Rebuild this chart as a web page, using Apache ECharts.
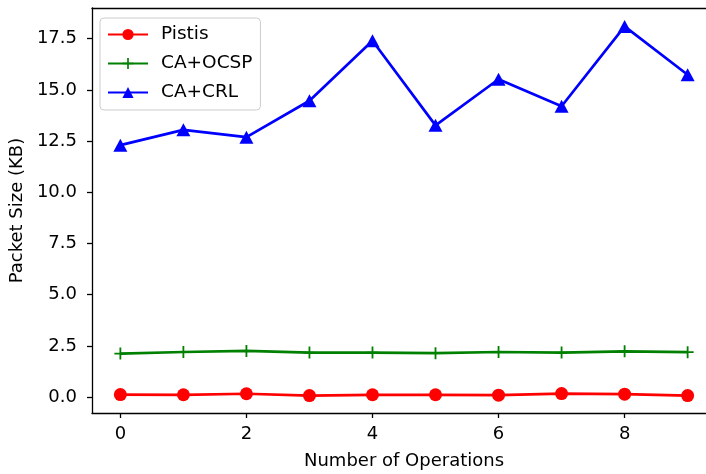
<!DOCTYPE html>
<html><head><meta charset="utf-8">
<script src="https://cdn.jsdelivr.net/npm/echarts@6/dist/echarts.min.js"></script>
<style>html,body{margin:0;padding:0;overflow:hidden;background:#fff;width:706px;height:474px}#c{width:730px;height:474px}</style>
</head><body><div id="c"></div>
<script>
const operations = [0,1,2,3,4,5,6,7,8,9];
const pistis = [0.12,0.11,0.16,0.07,0.11,0.11,0.09,0.17,0.14,0.07];
const caOcsp = [2.12,2.20,2.25,2.17,2.17,2.14,2.20,2.17,2.23,2.19];
const caCrl = [12.3,13.05,12.69,14.47,17.4,13.27,15.52,14.2,18.1,15.74];
const xTicks = [0,2,4,6,8];
const yTicks = [0,2.5,5,7.5,10,12.5,15,17.5];

const font = 'DejaVu Sans';
const plus = 'path://M0.425,0 H0.575 V0.425 H1 V0.575 H0.575 V1 H0.425 V0.575 H0 V0.425 H0.425 Z';
function pairs(v){return operations.map((x,i)=>[x,v[i]]);}
const axisColor = {color:'#000',width:1.3};
const chart = echarts.init(document.getElementById('c'));
chart.setOption({
  animation:false,
  textStyle:{fontFamily:font},
  grid:{left:92,top:8,width:624,bottom:61,containLabel:false,outerBoundsMode:'none'},
  legend:{
    left:100, top:18, orient:'vertical', itemWidth:40, itemHeight:14, itemGap:10,
    padding:[7,8,8,7], borderColor:'#cccccc', borderWidth:1, borderRadius:4,
    backgroundColor:'rgba(255,255,255,0.8)',
    textStyle:{fontFamily:font,fontSize:18.5,color:'#000',padding:[0,0,0,8]},
    data:['Pistis','CA+OCSP','CA+CRL']
  },
  xAxis:[{
    type:'value', min:-0.45, max:9.45,
    name:'Number of Operations', nameLocation:'middle', nameGap:39,
    nameTextStyle:{fontFamily:font,fontSize:18,color:'#000'},
    axisLine:{onZero:false,lineStyle:axisColor},
    axisTick:{show:true,length:5,customValues:xTicks,lineStyle:axisColor},
    axisLabel:{customValues:xTicks,fontFamily:font,fontSize:18,color:'#000',margin:12},
    splitLine:{show:false}
  },{
    type:'value', min:-0.45, max:9.45, position:'top',
    axisLine:{show:true,onZero:false,lineStyle:axisColor},
    axisTick:{show:false}, axisLabel:{show:false}, splitLine:{show:false}
  }],
  yAxis:{
    type:'value', min:-0.78, max:19.0,
    name:'Packet Size (KB)', nameLocation:'middle', nameGap:58,
    nameTextStyle:{fontFamily:font,fontSize:18,color:'#000'},
    axisLine:{show:true,onZero:false,lineStyle:axisColor},
    axisTick:{show:true,length:5,customValues:yTicks,lineStyle:axisColor},
    axisLabel:{customValues:yTicks,fontFamily:font,fontSize:18,color:'#000',margin:15,
      formatter:v=>v.toFixed(1)},
    splitLine:{show:false}
  },
  series:[
    {name:'Pistis',type:'line',data:pairs(pistis),symbol:'circle',symbolSize:13,
     lineStyle:{color:'#ff0000',width:2.7},itemStyle:{color:'#ff0000'}},
    {name:'CA+OCSP',type:'line',data:pairs(caOcsp),symbol:plus,symbolSize:12,
     lineStyle:{color:'#008000',width:2.7},itemStyle:{color:'#008000'}},
    {name:'CA+CRL',type:'line',data:pairs(caCrl),symbol:'triangle',symbolSize:[14,13],
     lineStyle:{color:'#0000ff',width:2.7},itemStyle:{color:'#0000ff'}}
  ]
});
</script></body></html>
